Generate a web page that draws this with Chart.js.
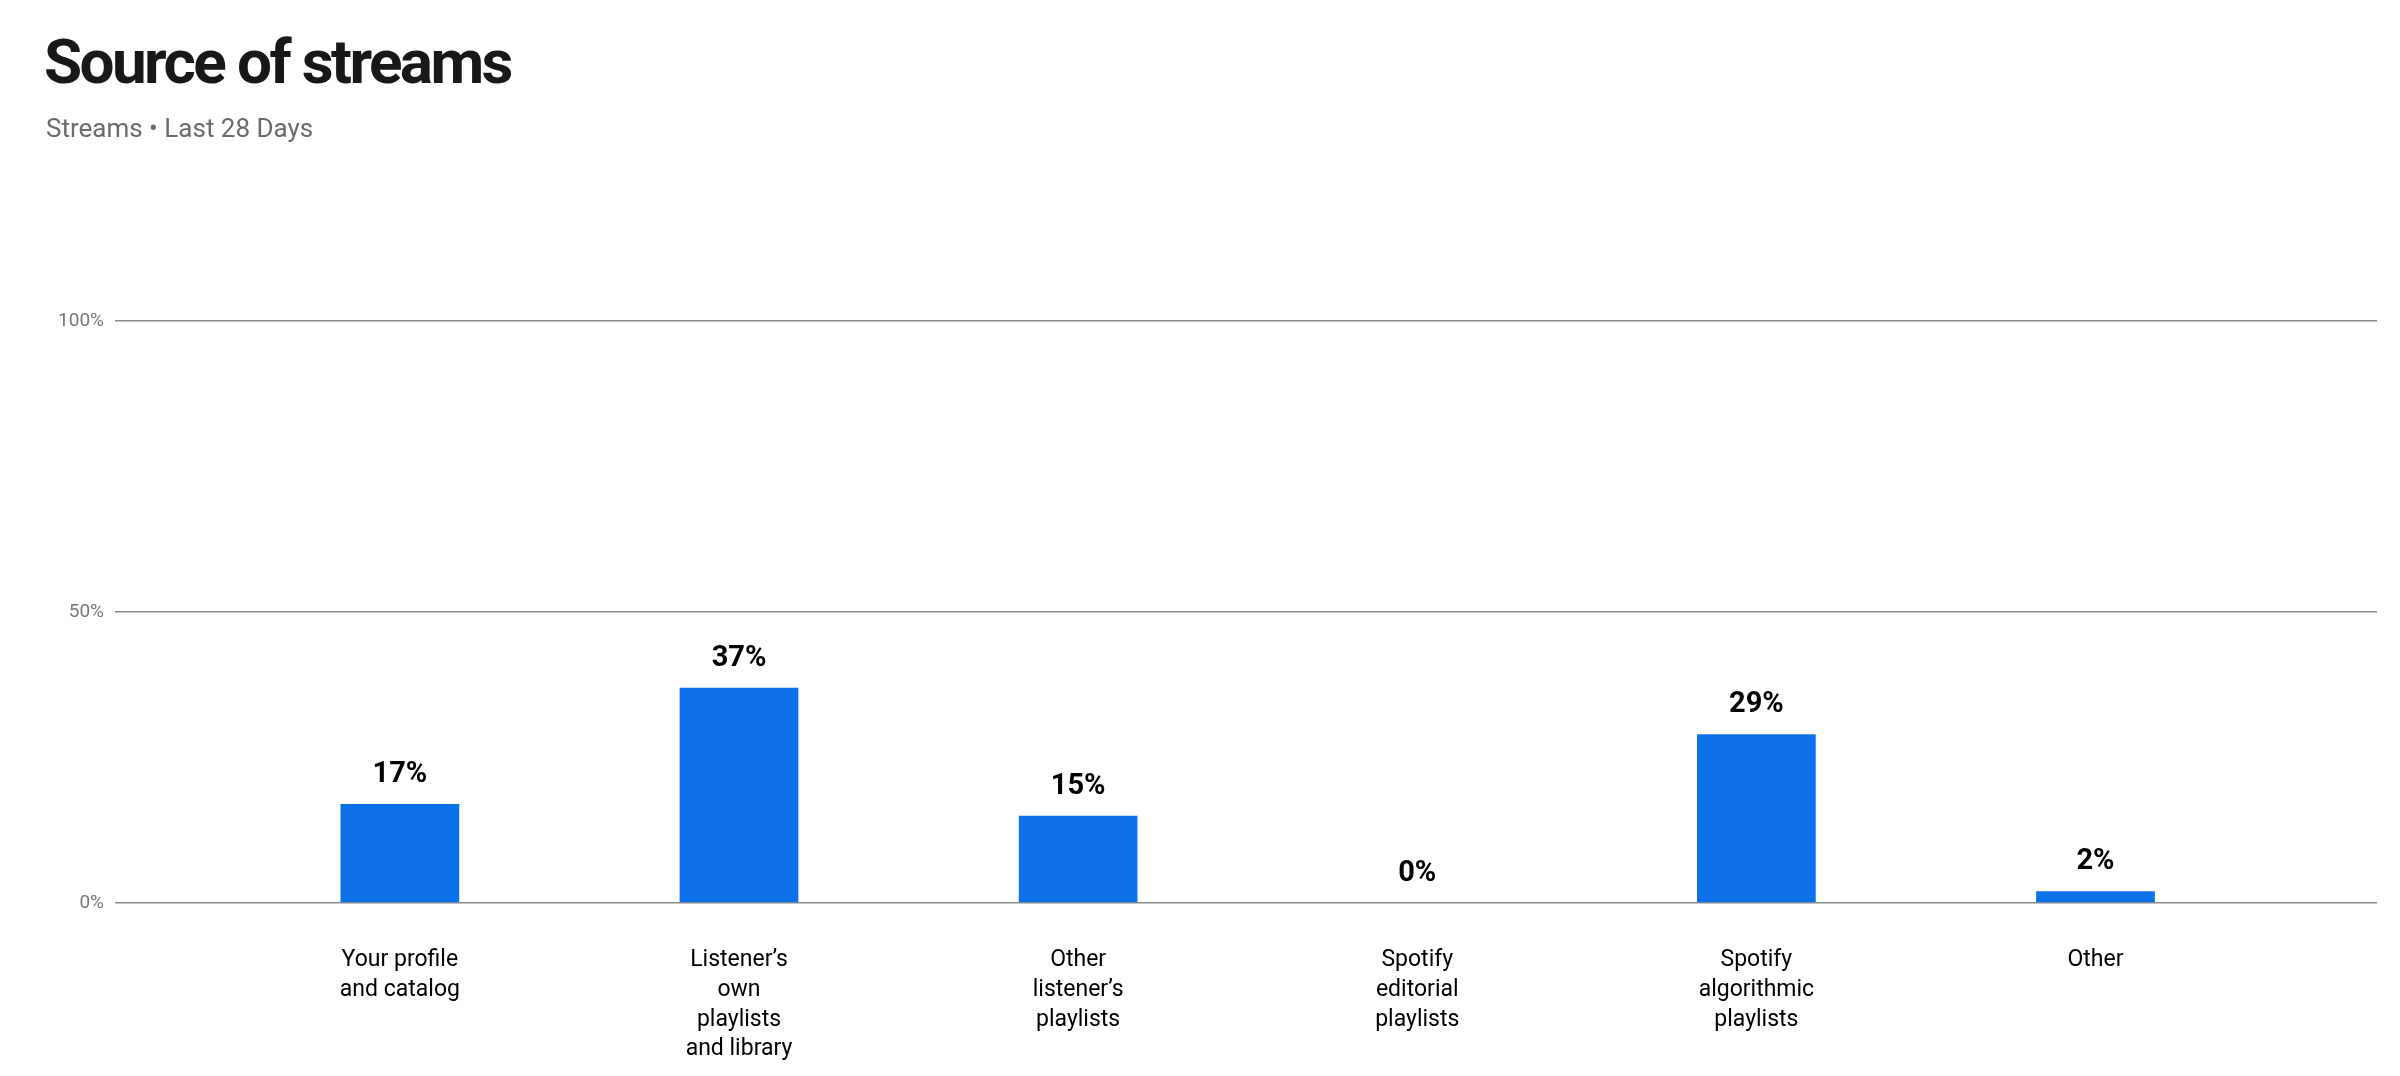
<!DOCTYPE html>
<html>
<head>
<meta charset="utf-8">
<script src="https://cdn.jsdelivr.net/npm/chart.js@4.4.1/dist/chart.umd.min.js"></script>
<style>
  html, body { margin: 0; padding: 0; background: #fff; width: 2400px; height: 1076px; overflow: hidden; }
  #title { position: absolute; left: 44px; top: 31px; margin: 0; font-family: Roboto, "Liberation Sans", sans-serif; font-weight: 700; font-size: 62px; line-height: 1; letter-spacing: -2.6px; color: #181818; white-space: nowrap; z-index: 2; }
  #subtitle { position: absolute; left: 46px; top: 115px; margin: 0; font-family: Roboto, "Liberation Sans", sans-serif; font-weight: 400; font-size: 26px; line-height: 1; color: #6a6a6a; white-space: nowrap; z-index: 2; }
  #c { position: absolute; left: 0; top: 0; }
</style>
</head>
<body>
<h1 id="title">Source of streams</h1>
<div id="subtitle">Streams • Last 28 Days</div>
<canvas id="c" width="2400" height="1076"></canvas>
<script>
const categories = [
  ["Your profile", "and catalog"],
  ["Listener’s", "own", "playlists", "and library"],
  ["Other", "listener’s", "playlists"],
  ["Spotify", "editorial", "playlists"],
  ["Spotify", "algorithmic", "playlists"],
  ["Other"]
];
const streamShare = [17, 37, 15, 0, 29, 2];
const yTickValues = [0, 50, 100];

const barData = streamShare.map((v, i) => ({ x: i, y: v }));

const valueLabels = {
  id: 'valueLabels',
  afterDatasetsDraw(chart) {
    const ctx = chart.ctx;
    const meta = chart.getDatasetMeta(0);
    ctx.save();
    ctx.font = '700 29px Roboto, "Liberation Sans", sans-serif';
    ctx.fillStyle = '#000000';
    ctx.textAlign = 'center';
    ctx.textBaseline = 'alphabetic';
    meta.data.forEach((bar, i) => {
      ctx.fillText(streamShare[i] + '%', bar.x, bar.y - 22);
    });
    ctx.restore();
  }
};

new Chart(document.getElementById('c'), {
  type: 'bar',
  data: {
    datasets: [{
      data: barData,
      backgroundColor: '#0d72ea',
      borderWidth: 0,
      barPercentage: 0.35,
      categoryPercentage: 1.0
    }]
  },
  options: {
    responsive: false,
    animation: false,
    devicePixelRatio: 1,
    layout: { padding: { left: 0, right: 23, top: 321, bottom: 0 } },
    plugins: {
      legend: { display: false },
      tooltip: { enabled: false },
      title: { display: false }
    },
    scales: {
      x: {
        type: 'linear',
        offset: false,
        min: -0.84,
        max: 5.83,
        afterBuildTicks: (scale) => { scale.ticks = categories.map((_, i) => ({ value: i })); },
        afterFit: (scale) => { scale.height = 173; },
        grid: { display: false, drawTicks: false },
        border: { display: false },
        ticks: {
          autoSkip: false,
          maxRotation: 0,
          minRotation: 0,
          padding: 42,
          color: '#000000',
          font: { family: 'Roboto, "Liberation Sans", sans-serif', size: 23, lineHeight: 1.3 },
          callback: (v) => categories[v]
        }
      },
      y: {
        min: 0,
        max: 100,
        afterBuildTicks: (scale) => { scale.ticks = yTickValues.map(v => ({ value: v })); },
        afterFit: (scale) => { scale.width = 115; },
        grid: { color: '#8a8a8a', lineWidth: 1.6, drawTicks: false },
        border: { display: false },
        ticks: {
          padding: 11,
          color: '#777777',
          font: { family: 'Roboto, "Liberation Sans", sans-serif', size: 19 },
          callback: (v) => v + '%'
        }
      }
    }
  },
  plugins: [valueLabels]
});
</script>
</body>
</html>
